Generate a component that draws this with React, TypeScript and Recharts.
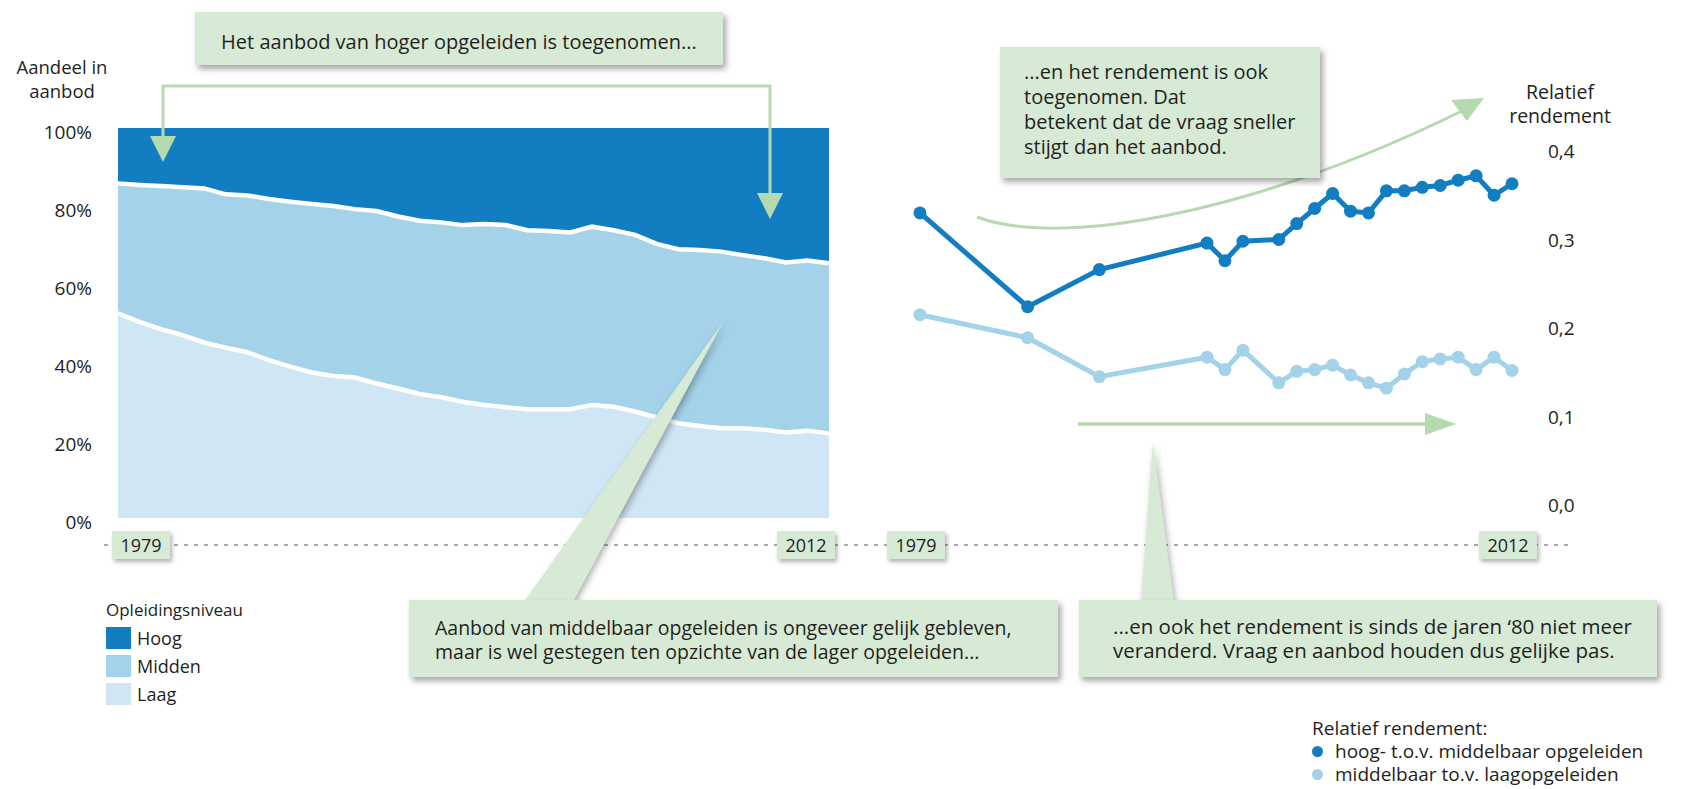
import { ComposedChart, Area, Line, XAxis, YAxis } from 'recharts';

// Aandeel in aanbod (%), per opleidingsniveau
const years = [
  1979, 1980, 1981, 1982, 1983, 1984, 1985, 1986, 1987, 1988, 1989, 1990,
  1991, 1992, 1993, 1994, 1995, 1996, 1997, 1998, 1999, 2000, 2001, 2002,
  2003, 2004, 2005, 2006, 2007, 2008, 2009, 2010, 2011, 2012,
];
const laag = [
  52.5, 50.3, 48.4, 46.9, 45.0, 43.7, 42.5, 40.5, 38.8, 37.3, 36.4, 36.0,
  34.5, 33.2, 31.8, 31.0, 29.8, 29.0, 28.4, 27.9, 27.9, 27.9, 29.0, 28.5,
  27.3, 25.8, 24.3, 23.6, 23.0, 23.0, 22.6, 21.9, 22.4, 21.7,
];
const midden = [
  33.3, 35.1, 36.7, 37.9, 39.5, 39.3, 40.2, 41.3, 42.3, 43.2, 43.6, 43.2,
  44.2, 44.1, 44.4, 44.8, 45.3, 46.4, 46.7, 45.9, 45.7, 45.3, 45.7, 45.3,
  45.3, 44.5, 44.6, 45.1, 45.3, 44.4, 44.0, 43.6, 43.6, 43.6,
];
const hoog = [
  14.2, 14.6, 14.9, 15.2, 15.5, 17.0, 17.3, 18.2, 18.9, 19.5, 20.0, 20.8,
  21.3, 22.7, 23.8, 24.2, 24.9, 24.6, 24.9, 26.2, 26.4, 26.8, 25.3, 26.2,
  27.4, 29.7, 31.1, 31.3, 31.7, 32.6, 33.4, 34.5, 34.0, 34.7,
];

// Relatief rendement
const rendementYears = [
  1979, 1985, 1989, 1995, 1996, 1997, 1999, 2000, 2001, 2002,
  2003, 2004, 2005, 2006, 2007, 2008, 2009, 2010, 2011, 2012,
];
const hoogTovMiddelbaar = [
  0.330, 0.224, 0.266, 0.296, 0.276, 0.298, 0.300, 0.318, 0.335, 0.352,
  0.332, 0.330, 0.355, 0.355, 0.359, 0.361, 0.367, 0.372, 0.350, 0.363,
];
const middelbaarTovLaag = [
  0.215, 0.189, 0.145, 0.167, 0.153, 0.175, 0.138, 0.151, 0.153, 0.158,
  0.147, 0.138, 0.132, 0.148, 0.162, 0.165, 0.167, 0.153, 0.167, 0.152,
];

const yearTicks = [1979, 2012];
const aandeelTicks = [0, 20, 40, 60, 80, 100];
const rendementTicks = [0, 0.1, 0.2, 0.3, 0.4];

const aandeelData = years.map((year, i) => ({
  year,
  laag: laag[i],
  midden: midden[i],
  hoog: hoog[i],
  laagTop: laag[i],
  middenTop: laag[i] + midden[i],
}));

const rendementData = rendementYears.map((year, i) => ({
  year,
  hoogTovMiddelbaar: hoogTovMiddelbaar[i],
  middelbaarTovLaag: middelbaarTovLaag[i],
}));

const FONT = '"Open Sans", "Noto Sans", sans-serif';
const TEXT = '#231f20';
const DARK = '#137dc1';
const MID = '#a4d2e9';
const LIGHT = '#cfe6f4';
const GREEN = '#b6d9b0';
const BOX = '#d7ead6';
const AXIS_Y = 545;

function YearBox({ x, value, anchor }: { x: number; value: number; anchor: 'start' | 'end' | 'middle' }) {
  const w = 58;
  const left = anchor === 'start' ? x - 6 : anchor === 'end' ? x - w + 6 : x - w / 2 - 4;
  return (
    <g>
      <rect
        x={left}
        y={AXIS_Y - 14}
        width={w}
        height={28}
        fill={BOX}
        style={{ filter: 'drop-shadow(2px 3px 2px rgba(0,0,0,0.3))' }}
      />
      <text
        x={left + w / 2}
        y={AXIS_Y}
        textAnchor="middle"
        dominantBaseline="central"
        fontFamily={FONT}
        fontSize={18}
        fill={TEXT}
      >
        {value}
      </text>
    </g>
  );
}

const leftYearTick = (props: any) => (
  <YearBox x={props.x} value={props.payload.value} anchor={props.payload.value === 1979 ? 'start' : 'end'} />
);
const rightYearTick = (props: any) => <YearBox x={props.x} value={props.payload.value} anchor="middle" />;

const pctTick = (props: any) => (
  <text x={92} y={props.y + 4} textAnchor="end" dominantBaseline="central" fontFamily={FONT} fontSize={19} fill={TEXT}>
    {props.payload.value}%
  </text>
);

const rendementTick = (props: any) => (
  <text x={688} y={props.y} textAnchor="start" dominantBaseline="central" fontFamily={FONT} fontSize={19} fill={TEXT}>
    {props.payload.value.toFixed(1).replace('.', ',')}
  </text>
);

const callout: React.CSSProperties = {
  position: 'absolute',
  background: BOX,
  boxShadow: '3px 4px 6px rgba(0,0,0,0.35)',
  fontFamily: FONT,
  color: TEXT,
  boxSizing: 'border-box',
  whiteSpace: 'nowrap',
};

export default function App() {
  return (
    <div style={{ position: 'absolute', left: 0, top: 0, width: 1682, height: 789, background: '#fff', overflow: 'hidden' }}>
      {/* dashed time line behind everything */}
      <svg width={1682} height={789} style={{ position: 'absolute', left: 0, top: 0 }}>
        <line x1={104} x2={1569} y1={AXIS_Y} y2={AXIS_Y} stroke="#555" strokeWidth={1} strokeDasharray="4 6" />
      </svg>

      <div style={{ position: 'absolute', left: 0, top: 0 }}>
        <ComposedChart width={850} height={580} data={aandeelData} margin={{ top: 128, right: 21, bottom: 32, left: 0 }}>
          <XAxis
            dataKey="year"
            type="number"
            domain={[1979, 2012]}
            ticks={yearTicks}
            interval={0}
            axisLine={false}
            tickLine={false}
            height={30}
            tick={leftYearTick}
          />
          <YAxis
            type="number"
            domain={[0, 100]}
            ticks={aandeelTicks}
            interval={0}
            width={118}
            axisLine={false}
            tickLine={false}
            tick={pctTick}
          />
          <Area dataKey="laag" stackId="a" type="linear" fill={LIGHT} fillOpacity={1} stroke="none" isAnimationActive={false} />
          <Area dataKey="midden" stackId="a" type="linear" fill={MID} fillOpacity={1} stroke="none" isAnimationActive={false} />
          <Area dataKey="hoog" stackId="a" type="linear" fill={DARK} fillOpacity={1} stroke="none" isAnimationActive={false} />
          <Line dataKey="laagTop" type="linear" stroke="#fff" strokeWidth={4.5} dot={false} activeDot={false} isAnimationActive={false} />
          <Line dataKey="middenTop" type="linear" stroke="#fff" strokeWidth={4.5} dot={false} activeDot={false} isAnimationActive={false} />
        </ComposedChart>
      </div>

      <div style={{ position: 'absolute', left: 860, top: 0 }}>
        <ComposedChart width={800} height={580} data={rendementData} margin={{ top: 151, right: 88, bottom: 45, left: 60 }}>
          <XAxis
            dataKey="year"
            type="number"
            domain={[1979, 2012]}
            ticks={yearTicks}
            interval={0}
            axisLine={false}
            tickLine={false}
            height={30}
            tick={rightYearTick}
          />
          <YAxis
            orientation="right"
            type="number"
            domain={[0, 0.4]}
            ticks={rendementTicks}
            interval={0}
            width={60}
            axisLine={false}
            tickLine={false}
            tick={rendementTick}
          />
          <Line
            dataKey="middelbaarTovLaag"
            type="linear"
            stroke={MID}
            strokeWidth={5}
            dot={{ r: 6.5, fill: MID, stroke: MID, strokeWidth: 0 }}
            activeDot={false}
            isAnimationActive={false}
          />
          <Line
            dataKey="hoogTovMiddelbaar"
            type="linear"
            stroke={DARK}
            strokeWidth={5}
            dot={{ r: 6.5, fill: DARK, stroke: DARK, strokeWidth: 0 }}
            activeDot={false}
            isAnimationActive={false}
          />
        </ComposedChart>
      </div>

      {/* annotations: arrows and callout pointers */}
      <svg width={1682} height={789} style={{ position: 'absolute', left: 0, top: 0, pointerEvents: 'none' }}>
        <polyline points="163,140 163,86 770,86 770,196" fill="none" stroke={GREEN} strokeWidth={3} />
        <polygon points="150,136 176,136 163,162" fill={GREEN} />
        <polygon points="757,193 783,193 770,219" fill={GREEN} />
        <path d="M977,217 C1060,248 1250,215 1464,110" fill="none" stroke={GREEN} strokeWidth={3} />
        <polygon points="1484,98 1451,100 1467,121" fill={GREEN} />
        <line x1={1078} x2={1430} y1={424} y2={424} stroke={GREEN} strokeWidth={3.5} />
        <polygon points="1425,413 1456,424 1425,435" fill={GREEN} />
        <g style={{ filter: 'drop-shadow(2px 3px 3px rgba(0,0,0,0.3))' }}>
          <polygon points="524,602 573,602 723,322" fill={BOX} />
          <polygon points="1141,602 1174,602 1153,442" fill={BOX} />
        </g>
      </svg>

      <div style={{ position: 'absolute', left: 8, top: 55, width: 108, textAlign: 'center', fontFamily: FONT, fontSize: 18.5, lineHeight: '24px', color: TEXT }}>
        Aandeel in
        <br />
        aanbod
      </div>

      <div style={{ position: 'absolute', left: 1500, top: 80, width: 120, textAlign: 'center', fontFamily: FONT, fontSize: 19.5, lineHeight: '24px', color: TEXT }}>
        Relatief
        <br />
        rendement
      </div>

      <div style={{ ...callout, left: 195, top: 12, width: 528, height: 53, textAlign: 'center', paddingTop: 18, fontSize: 20, lineHeight: '24px' }}>
        Het aanbod van hoger opgeleiden is toegenomen...
      </div>

      <div style={{ ...callout, left: 1000, top: 47, width: 320, height: 131, paddingLeft: 24, paddingTop: 12, fontSize: 20, lineHeight: '25px' }}>
        ...en het rendement is ook
        <br />
        toegenomen. Dat
        <br />
        betekent dat de vraag sneller
        <br />
        stijgt dan het aanbod.
      </div>

      <div style={{ ...callout, left: 409, top: 600, width: 649, height: 77, paddingLeft: 26, paddingTop: 16, fontSize: 19.5, lineHeight: '24px' }}>
        Aanbod van middelbaar opgeleiden is ongeveer gelijk gebleven,
        <br />
        maar is wel gestegen ten opzichte van de lager opgeleiden...
      </div>

      <div style={{ ...callout, left: 1079, top: 600, width: 578, height: 77, paddingLeft: 34, paddingTop: 14, fontSize: 20.5, lineHeight: '24px' }}>
        ...en ook het rendement is sinds de jaren ‘80 niet meer
        <br />
        veranderd. Vraag en aanbod houden dus gelijke pas.
      </div>

      {/* legend: opleidingsniveau */}
      <div style={{ position: 'absolute', left: 106, top: 599, fontFamily: FONT, color: TEXT }}>
        <div style={{ fontSize: 17, lineHeight: '22px' }}>Opleidingsniveau</div>
        {[
          { label: 'Hoog', color: DARK },
          { label: 'Midden', color: MID },
          { label: 'Laag', color: LIGHT },
        ].map((item) => (
          <div key={item.label} style={{ display: 'flex', alignItems: 'center', height: 23, marginTop: 5 }}>
            <div style={{ width: 25, height: 22, background: item.color }} />
            <span style={{ marginLeft: 6, fontSize: 18 }}>{item.label}</span>
          </div>
        ))}
      </div>

      {/* legend: relatief rendement */}
      <div style={{ position: 'absolute', left: 1312, top: 717, fontFamily: FONT, color: TEXT, fontSize: 19 }}>
        <div style={{ lineHeight: '23px' }}>Relatief rendement:</div>
        {[
          { label: 'hoog- t.o.v. middelbaar opgeleiden', color: DARK },
          { label: 'middelbaar to.v. laagopgeleiden', color: MID },
        ].map((item) => (
          <div key={item.label} style={{ display: 'flex', alignItems: 'center', height: 23, lineHeight: '23px' }}>
            <div style={{ width: 11, height: 11, borderRadius: '50%', background: item.color }} />
            <span style={{ marginLeft: 12 }}>{item.label}</span>
          </div>
        ))}
      </div>
    </div>
  );
}
